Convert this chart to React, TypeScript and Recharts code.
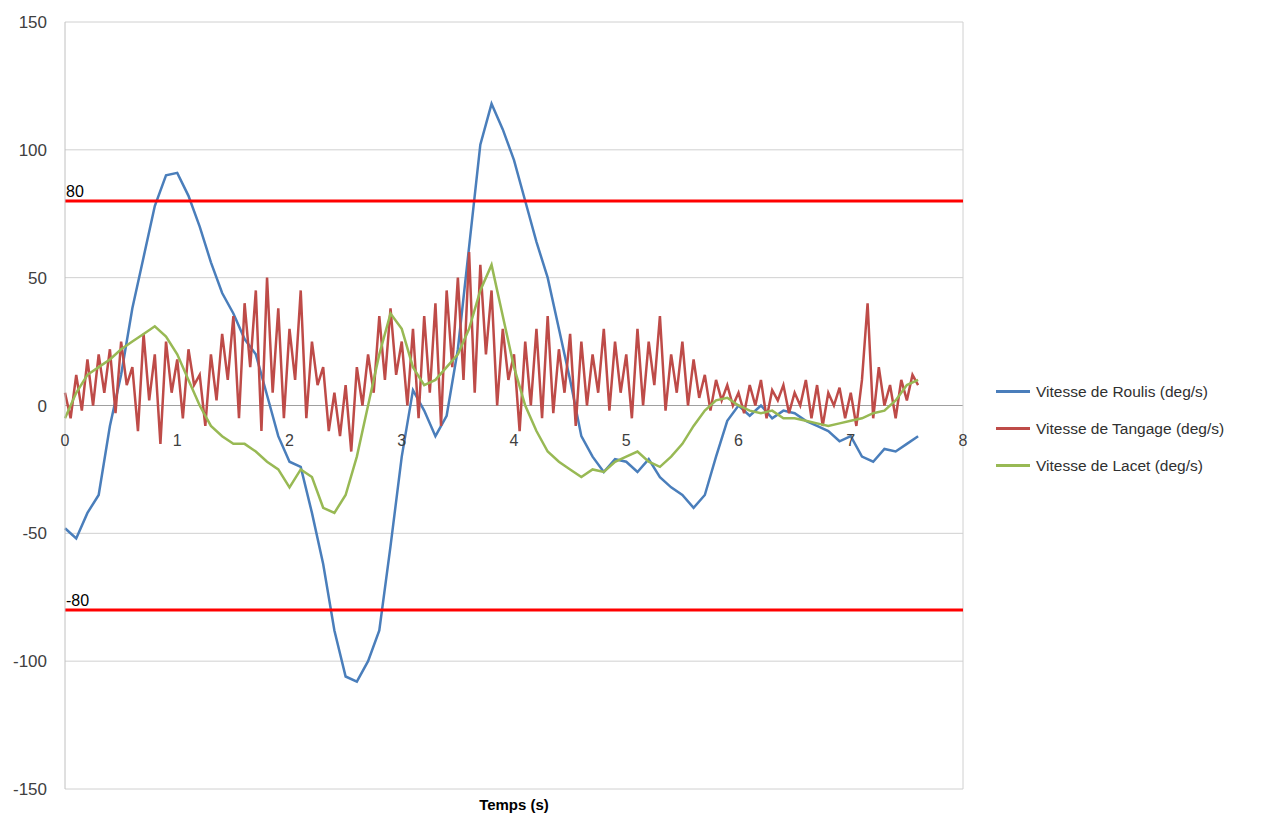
import React from 'react';
import { LineChart, Line, XAxis, YAxis, CartesianGrid, ReferenceLine } from 'recharts';

const timesCoarse = [0,0.1,0.2,0.3,0.4,0.5,0.6,0.7,0.8,0.9,1,1.1,1.2,1.3,1.4,1.5,1.6,1.7,1.8,1.9,2,2.1,2.2,2.3,2.4,2.5,2.6,2.7,2.8,2.9,3,3.1,3.2,3.3,3.4,3.5,3.6,3.7,3.8,3.9,4,4.1,4.2,4.3,4.4,4.5,4.6,4.7,4.8,4.9,5,5.1,5.2,5.3,5.4,5.5,5.6,5.7,5.8,5.9,6,6.1,6.2,6.3,6.4,6.5,6.6,6.7,6.8,6.9,7,7.1,7.2,7.3,7.4,7.5,7.6];

const roulis = [-48,-52,-42,-35,-8,12,38,58,78,90,91,82,70,56,44,36,26,20,4,-12,-22,-24,-42,-62,-88,-106,-108,-100,-88,-55,-20,6,-2,-12,-4,22,62,102,118,108,96,80,64,50,30,10,-12,-20,-26,-21,-22,-26,-21,-28,-32,-35,-40,-35,-20,-6,0,-4,0,-5,-2,-3,-6,-8,-10,-14,-12,-20,-22,-17,-18,-15,-12];

const lacet = [-5,5,12,15,18,22,25,28,31,27,20,10,0,-8,-12,-15,-15,-18,-22,-25,-32,-25,-28,-40,-42,-35,-20,0,20,36,30,15,8,10,15,20,30,45,55,35,15,0,-10,-18,-22,-25,-28,-25,-26,-22,-20,-18,-22,-24,-20,-15,-8,-2,2,3,0,-2,-3,-2,-5,-5,-6,-7,-8,-7,-6,-5,-3,-2,2,8,10];

const tangage = [
  5,-5,12,-2,18,0,20,5,22,-3,25,8,15,-10,28,2,20,-15,25,5,
  18,-5,22,8,12,-8,20,2,28,10,35,-5,40,15,45,-10,50,5,38,-5,
  30,10,45,-5,25,8,15,-10,5,-12,8,-18,15,0,20,5,35,10,38,12,
  25,0,30,-5,35,5,40,-8,45,15,50,10,60,5,55,20,45,0,30,10,
  20,-10,25,0,30,-5,35,-3,22,5,28,-8,25,0,20,5,30,-2,25,5,
  20,-5,30,0,25,8,35,-2,20,5,25,0,18,3,12,-2,10,2,8,0,
  5,-3,8,0,10,-5,6,2,8,-3,5,0,10,-5,8,-8,5,0,7,-5,
  5,-8,10,40,-5,15,0,8,-5,10,2,12,8,
];

const xTicks = [0,1,2,3,4,5,6,7,8];
const yTicks = [-150,-100,-50,0,50,100,150];

const roulisData = timesCoarse.map((t, i) => ({ t, v: roulis[i] }));
const lacetData = timesCoarse.map((t, i) => ({ t, v: lacet[i] }));
const tangageData = tangage.map((v, i) => ({ t: Math.round(i * 5) / 100, v }));

const series = [
  { name: 'Vitesse de Roulis (deg/s)', color: '#4a7ebb', data: roulisData },
  { name: 'Vitesse de Tangage (deg/s)', color: '#be4b48', data: tangageData },
  { name: 'Vitesse de Lacet (deg/s)', color: '#98b954', data: lacetData },
];

const font = '"Liberation Sans", Arial, sans-serif';
const PLOT_H = 767;

const XTick = (props: any) => {
  const { x, y, payload } = props;
  return (
    <text x={x} y={y - PLOT_H / 2 + 32} textAnchor="middle" fill="#404040" fontSize={16} fontFamily={font}>
      {payload.value}
    </text>
  );
};

export default function App() {
  return (
    <div style={{ position: 'relative', width: 1250, height: 808, fontFamily: font }}>
      <LineChart width={965} height={808} margin={{ top: 14, right: 10, bottom: 0, left: 0 }}>
        <CartesianGrid vertical={false} stroke="#d0d0d0" />
        <XAxis type="number" dataKey="t" domain={[0, 8]} ticks={xTicks} axisLine={false} tickLine={false}
          tick={<XTick />} height={27} allowDuplicatedCategory={false} />
        <YAxis type="number" domain={[-150, 150]} ticks={yTicks} width={57} tickLine={false}
          axisLine={{ stroke: '#c0c0c0' }} tick={{ fontSize: 17, fill: '#404040', dx: -10 }} />
        <ReferenceLine y={0} stroke="#a0a0a0" />
        <ReferenceLine x={8} stroke="#d0d0d0" />
        {series.map((s) => (
          <Line key={s.name} data={s.data} dataKey="v" name={s.name} type="linear" stroke={s.color}
            strokeWidth={2.5} dot={false} isAnimationActive={false} />
        ))}
        <ReferenceLine y={80} stroke="#ff0000" strokeWidth={3}
          label={{ value: '80', position: 'insideTopLeft', fill: '#000', fontSize: 16, dx: -4, dy: -20 }} />
        <ReferenceLine y={-80} stroke="#ff0000" strokeWidth={3}
          label={{ value: '-80', position: 'insideTopLeft', fill: '#000', fontSize: 16, dx: -4, dy: -20 }} />
      </LineChart>
      <div style={{ position: 'absolute', left: 0, width: 1012, top: 788, textAlign: 'center', fontWeight: 'bold', fontSize: 15 }}>
        Temps (s)
      </div>
      <div style={{ position: 'absolute', left: 988, top: 365 }}>
        {series.map((s) => (
          <div key={s.name} style={{ display: 'flex', alignItems: 'center', height: 37, fontSize: 15.5, color: '#303030' }}>
            <span style={{ display: 'inline-block', width: 34, height: 3, background: s.color, marginRight: 6 }} />
            {s.name}
          </div>
        ))}
      </div>
    </div>
  );
}
